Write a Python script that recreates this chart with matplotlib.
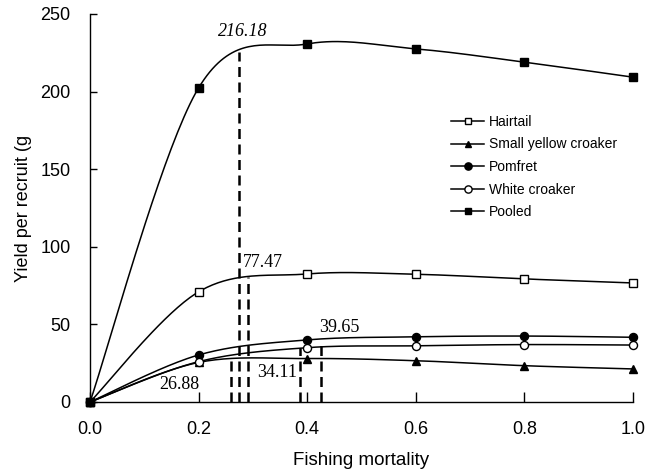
import numpy as np
import matplotlib
matplotlib.use("Agg")
import matplotlib.pyplot as plt

F = [0.0, 0.2, 0.4, 0.6, 0.8, 1.0]
hairtail = [0, 71.0, 82.5, 82.3, 79.3, 76.7]
small_yellow = [0, 25.5, 28.0, 26.6, 23.4, 21.3]
pomfret = [0, 30.3, 40.0, 42.0, 42.5, 41.7]
white_croaker = [0, 26.0, 35.0, 36.2, 37.0, 36.7]
pooled = [0, 202.4, 230.7, 227.5, 219.0, 209.3]

# reference points (F, yield at the curve) with labels
ref_F = [0.275, 0.291, 0.260, 0.386, 0.425]
ref_top = [225.5, 80.5, 28.0, 34.5, 40.0]
ref_labels = ["216.18", "77.47", "26.88", "34.11", "39.65"]
label_xy = [(0.282, 238.5), (0.318, 89.6), (0.164, 11.0), (0.344, 18.7), (0.460, 48.3)]
label_italic = [True, False, False, False, False]

xticks = [0.0, 0.2, 0.4, 0.6, 0.8, 1.0]
yticks = [0, 50, 100, 150, 200, 250]


def smooth(x, y, n=40):
    x = np.asarray(x, float)
    y = np.asarray(y, float)
    P = np.column_stack([x, y])
    out = [P[0]]
    for i in range(len(P) - 1):
        p0 = P[i - 1] if i > 0 else P[i]
        p1 = P[i]
        p2 = P[i + 1]
        p3 = P[i + 2] if i + 2 < len(P) else P[i + 1]
        c1 = p1 + (p2 - p0) / 6.0
        c2 = p2 - (p3 - p1) / 6.0
        t = np.linspace(0, 1, n)[1:, None]
        B = ((1 - t) ** 3) * p1 + 3 * ((1 - t) ** 2) * t * c1 + 3 * (1 - t) * t ** 2 * c2 + t ** 3 * p2
        out.extend(B)
    out = np.array(out)
    return out[:, 0], out[:, 1]


fig = plt.figure(figsize=(6.61, 4.72), dpi=100)
ax = fig.add_axes([90 / 661, 70 / 472, 543 / 661, 388 / 472])

series = [
    ("Hairtail", hairtail, dict(marker="s", mfc="white", mec="black", ms=5.5)),
    ("Small yellow croaker", small_yellow, dict(marker="^", mfc="black", mec="black", ms=5.5)),
    ("Pomfret", pomfret, dict(marker="o", mfc="black", mec="black", ms=5.8)),
    ("White croaker", white_croaker, dict(marker="o", mfc="white", mec="black", ms=5.8)),
    ("Pooled", pooled, dict(marker="s", mfc="black", mec="black", ms=5.5)),
]

handles = []
for name, vals, mk in series:
    sx, sy = smooth(F, vals)
    ax.plot(sx, sy, color="black", lw=1.1, zorder=3, clip_on=False)
    ax.plot(F, vals, ls="none", zorder=4, clip_on=False, **mk)
    h, = ax.plot([], [], color="black", lw=1.1, **mk)
    handles.append((h, name))

for fx, top in zip(ref_F, ref_top):
    ax.plot([fx, fx], [0, top], color="black", lw=1.8, ls=(0, (4, 2.2)), zorder=2)

for (lx, ly), txt, it in zip(label_xy, ref_labels, label_italic):
    ax.text(lx, ly, txt, ha="center", va="center", fontsize=13,
            family="Liberation Serif", style="italic" if it else "normal")

ax.set_xlim(0, 1.0)
ax.set_ylim(0, 250)
ax.set_xticks(xticks)
ax.set_xticklabels([f"{v:.1f}" for v in xticks], family="Liberation Sans", fontsize=13)
ax.set_yticks(yticks)
ax.set_yticklabels([str(v) for v in yticks], family="Liberation Sans", fontsize=13)
ax.tick_params(axis="x", direction="in", length=7, width=1, pad=14)
ax.tick_params(axis="y", direction="in", length=5, width=1, pad=14)
for s in ["top", "right"]:
    ax.spines[s].set_visible(False)
for s in ["left", "bottom"]:
    ax.spines[s].set_linewidth(1.0)

ax.set_xlabel("Fishing mortality", family="Liberation Sans", fontsize=13.5, labelpad=10)
ax.set_ylabel("Yield per recruit (g", family="Liberation Sans", fontsize=13, labelpad=6)

leg = ax.legend([h for h, _ in handles], [n for _, n in handles], loc="upper left",
                bbox_to_anchor=(0.665, 0.74), frameon=False,
                prop=dict(family="Liberation Sans", size=10),
                handlelength=2.4, handletextpad=0.3, labelspacing=0.62, borderpad=0,
                borderaxespad=0, markerscale=0.9)

fig.savefig("out.png", dpi=100)
